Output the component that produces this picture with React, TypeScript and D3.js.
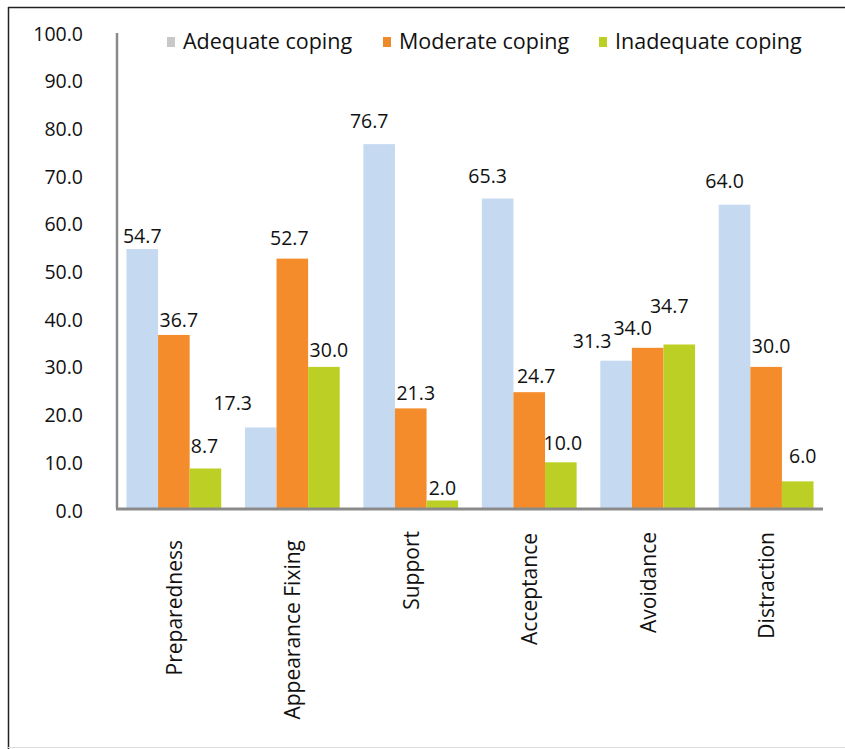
import React from "react";
import * as d3 from "d3";

// Coping strategy categories and the share (%) of each coping level
const categories = [
  "Preparedness",
  "Appearance Fixing",
  "Support",
  "Acceptance",
  "Avoidance",
  "Distraction",
];
const seriesNames = ["Adequate coping", "Moderate coping", "Inadequate coping"];
const adequate = [54.7, 17.3, 76.7, 65.3, 31.3, 64.0];
const moderate = [36.7, 52.7, 21.3, 24.7, 34.0, 30.0];
const inadequate = [8.7, 30.0, 2.0, 10.0, 34.7, 6.0];
const yTicks = [0, 10, 20, 30, 40, 50, 60, 70, 80, 90, 100];

// Hand-placed value labels: horizontal shift and gap above the bar top
const labelShiftAdequate = [0, -28, -10, -10, -24, -10];
const labelGapAdequate = [6, 17, 16, 16, 13, 17];
const labelShiftModerate = [5, -3, 5, 7, -15, 5];
const labelGapModerate = [8, 14, 8, 9, 13, 14];
const labelShiftInadequate = [-1, 5, 0, 2, -10, 5];
const labelGapInadequate = [16, 10, 5, 12, 31, 18];
// Category labels: small vertical shift of their top ends
const categoryShift = [9, 9, 0, 2, 1, 1];

const colors = ["#c5d9f1", "#f58c2c", "#bccf24"];
const legendColors = ["#c8c8c8", "#ef8a2c", "#bccf24"];

const W = 845;
const H = 749;
const x0 = 117;
const x1 = 823;
const yTop = 33;
const yBottom = 510;

export default function App() {
  const series = [adequate, moderate, inadequate];
  const shifts = [labelShiftAdequate, labelShiftModerate, labelShiftInadequate];
  const gaps = [labelGapAdequate, labelGapModerate, labelGapInadequate];

  const x = d3
    .scaleBand<string>()
    .domain(categories)
    .range([x0, x1])
    .paddingInner(0.2)
    .paddingOuter(0.08);
  const xs = d3
    .scaleBand<number>()
    .domain([0, 1, 2])
    .range([0, x.bandwidth()]);
  const y = d3.scaleLinear().domain([0, 100]).range([yBottom, yTop]);

  const font = "'Open Sans', 'Noto Sans', sans-serif";
  const legendX = [167, 383, 599];

  return (
    <svg
      width={W}
      height={H}
      style={{ position: "absolute", left: 0, top: 0, display: "block", background: "#fff" }}
      fontFamily={font}
    >
      {/* frame */}
      <line x1={8.5} y1={7} x2={8.5} y2={H} stroke="#222" strokeWidth={1.5} />
      <line x1={8} y1={7.5} x2={W} y2={7.5} stroke="#222" strokeWidth={1.5} />
      <line x1={8} y1={747.5} x2={W} y2={747.5} stroke="#ddd" strokeWidth={1} />

      {/* y tick labels */}
      {yTicks.map((t) => (
        <text
          key={t}
          x={83}
          y={y(t)}
          textAnchor="end"
          dominantBaseline="central"
          fontSize={19.5}
          fill="#111"
        >
          {d3.format(".1f")(t)}
        </text>
      ))}

      {/* bars */}
      {categories.map((c, i) => (
        <g key={c} transform={`translate(${x(c)},0)`}>
          {series.map((s, k) => (
            <rect
              key={k}
              x={xs(k)}
              y={y(s[i])}
              width={xs.bandwidth()}
              height={y(0) - y(s[i])}
              fill={colors[k]}
            />
          ))}
        </g>
      ))}

      {/* axes */}
      <line x1={x0} y1={yTop} x2={x0} y2={yBottom - 1} stroke="#8a8a8a" strokeWidth={2.5} />
      <line x1={x0 - 1} y1={yBottom - 1} x2={x1} y2={yBottom - 1} stroke="#8a8a8a" strokeWidth={3} />

      {/* value labels */}
      {categories.map((c, i) =>
        series.map((s, k) => (
          <text
            key={`${c}-${k}`}
            x={(x(c) as number) + (xs(k) as number) + xs.bandwidth() / 2 + shifts[k][i]}
            y={y(s[i]) - gaps[k][i]}
            textAnchor="middle"
            fontSize={19.5}
            fill="#111"
          >
            {d3.format(".1f")(s[i])}
          </text>
        ))
      )}

      {/* category labels */}
      {categories.map((c, i) => {
        const cx = (x(c) as number) + x.bandwidth() / 2;
        const cy = 531 + categoryShift[i];
        return (
          <text
            key={c}
            transform={`translate(${cx},${cy}) rotate(-90)`}
            textAnchor="end"
            dominantBaseline="central"
            fontSize={21}
            fill="#111"
          >
            {c}
          </text>
        );
      })}

      {/* legend */}
      {seriesNames.map((n, k) => (
        <g key={n}>
          <rect x={legendX[k]} y={37} width={8} height={10} fill={legendColors[k]} />
          <text x={legendX[k] + 16} y={49} fontSize={21.5} fill="#111">
            {n}
          </text>
        </g>
      ))}
    </svg>
  );
}
